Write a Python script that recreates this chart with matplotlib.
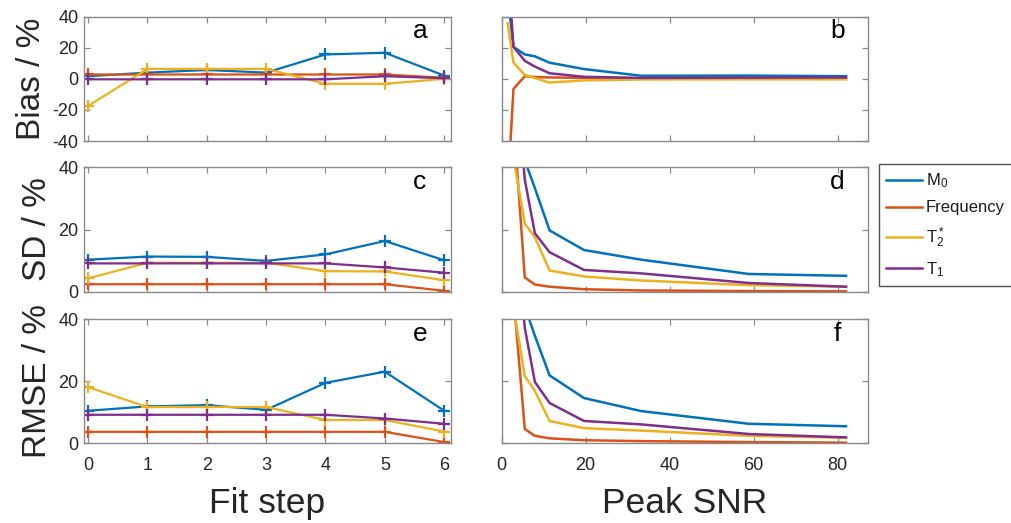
import matplotlib
matplotlib.use("Agg")
import matplotlib.pyplot as plt

plt.rcParams['font.family'] = ['Liberation Sans', 'DejaVu Sans']
plt.rcParams['mathtext.fontset'] = 'custom'
plt.rcParams['mathtext.rm'] = 'Liberation Sans'
plt.rcParams['mathtext.it'] = 'Liberation Sans:italic'
plt.rcParams['axes.unicode_minus'] = False

# ---- data: fit-step study ----
fit_step = [0, 1, 2, 3, 4, 5, 6]
bias_m0 = [1.7, 4.0, 5.7, 4.0, 15.7, 16.8, 2.1]
bias_freq = [2.8, 2.8, 2.8, 2.8, 2.8, 2.8, 0.7]
bias_t2 = [-17.4, 6.4, 6.4, 6.4, -3.2, -3.2, 0.0]
bias_t1 = [-0.3, -0.3, -0.3, -0.3, -0.3, 1.7, 0.4]

sd_m0 = [10.3, 11.3, 11.2, 9.9, 12.0, 16.3, 10.1]
sd_freq = [2.4, 2.4, 2.4, 2.4, 2.4, 2.4, 0.3]
sd_t2 = [4.3, 9.3, 9.3, 9.3, 6.6, 6.5, 3.7]
sd_t1 = [9.1, 9.1, 9.1, 9.1, 9.1, 7.8, 6.1]

rmse_m0 = [10.5, 11.9, 12.3, 10.8, 19.5, 23.1, 10.5]
rmse_freq = [3.7, 3.7, 3.7, 3.7, 3.7, 3.7, 0.4]
rmse_t2 = [18.1, 11.7, 11.7, 11.7, 7.5, 7.5, 3.8]
rmse_t1 = [9.2, 9.2, 9.2, 9.2, 9.2, 8.0, 6.3]

# ---- data: noise study ----
snr = [1.4, 2.8, 5.5, 7.9, 11.4, 19.6, 33.2, 58.8, 82.0]
snr_bias_m0 = [54, 20.6, 15.7, 14.5, 10.4, 6.3, 2.0, 2.1, 1.7]
snr_bias_freq = [-74, -6.5, 1.7, 1.2, 0.9, 0.6, 0.4, 0.3, 0.3]
snr_bias_t2 = [36, 10.5, 2.5, 0.5, -2.4, -1.0, -0.4, -0.3, -0.3]
snr_bias_t1 = [75, 20.6, 11.6, 7.9, 3.6, 1.3, 0.6, 0.8, 0.9]

snr_sd_m0 = [100, 70, 42.2, 33.3, 19.7, 13.4, 10.3, 5.7, 5.1]
snr_sd_freq = [100, 55.8, 4.6, 2.3, 1.6, 0.8, 0.4, 0.2, 0.1]
snr_sd_t2 = [100, 43, 21.9, 17.5, 6.8, 4.9, 3.6, 2.1, 1.6]
snr_sd_t1 = [100, 80, 36, 18.8, 12.7, 7.0, 5.9, 2.8, 1.6]

snr_rmse_m0 = [100, 90, 44.1, 34.7, 21.9, 14.6, 10.4, 6.3, 5.5]
snr_rmse_freq = [100, 47.7, 4.6, 2.4, 1.6, 1.0, 0.7, 0.4, 0.2]
snr_rmse_t2 = [100, 44, 21.7, 16.9, 7.2, 4.9, 4.1, 2.4, 1.8]
snr_rmse_t1 = [100, 80, 37.2, 19.8, 13.0, 7.2, 6.1, 3.0, 1.9]

series_names = [r'M$_0$', 'Frequency', r'T$_2^*$', r'T$_1$']
colors = ['#0072BD', '#D95319', '#EDB120', '#7E2F8E']
panel_letters = ['a', 'b', 'c', 'd', 'e', 'f']
row_labels = ['Bias / %', 'SD / %', 'RMSE / %']

W, H = 1012, 523
fig = plt.figure(figsize=(W / 100, H / 100), dpi=100)

ax_color = '#262626'
frame_color = '#8a8a8a'

def px_axes(x0, x1, y0, y1):
    return fig.add_axes([x0 / W, 1 - y1 / H, (x1 - x0) / W, (y1 - y0) / H])

rows_px = [(16.7, 141.0), (167.3, 291.7), (319.3, 443.3)]
left_px = (84.0, 450.7)
right_px = (501.7, 868.3)

left_data = [
    [bias_m0, bias_freq, bias_t2, bias_t1],
    [sd_m0, sd_freq, sd_t2, sd_t1],
    [rmse_m0, rmse_freq, rmse_t2, rmse_t1],
]
right_data = [
    [snr_bias_m0, snr_bias_freq, snr_bias_t2, snr_bias_t1],
    [snr_sd_m0, snr_sd_freq, snr_sd_t2, snr_sd_t1],
    [snr_rmse_m0, snr_rmse_freq, snr_rmse_t2, snr_rmse_t1],
]
ylims = [(-40, 40), (0, 40), (0, 40)]
yticks = [[-40, -20, 0, 20, 40], [0, 20, 40], [0, 20, 40]]

def style(ax):
    for s in ax.spines.values():
        s.set_color(frame_color)
        s.set_linewidth(1.0)
    ax.tick_params(direction='in', top=True, right=True, length=4,
                   width=0.9, color=frame_color, labelsize=13,
                   labelcolor=ax_color)
    ax.tick_params(axis='y', pad=4)
    ax.tick_params(axis='x', pad=10)

handles = None
for r, (y0, y1) in enumerate(rows_px):
    # fit-step column
    axl = px_axes(left_px[0], left_px[1], y0, y1)
    for vals, c in zip(left_data[r], colors):
        axl.plot(fit_step, vals, color=c, lw=1.6, marker='+', ms=8, mew=1.6)
    axl.set_xlim(-0.07, 6.11)
    axl.set_ylim(*ylims[r])
    axl.set_yticks(yticks[r])
    axl.set_xticks(fit_step)
    style(axl)
    axl.set_ylabel(row_labels[r], fontsize=24, color=ax_color, labelpad=4)
    if r < 2:
        axl.set_xticklabels([])
    else:
        axl.set_xlabel('Fit step', fontsize=25.5, color=ax_color, labelpad=9)
    axl.text(0.916, 0.885, panel_letters[2 * r], transform=axl.transAxes,
             ha='center', va='center', fontsize=19, color='black')

    # SNR column
    axr = px_axes(right_px[0], right_px[1], y0, y1)
    hs_r = []
    for vals, c in zip(right_data[r], colors):
        h, = axr.plot(snr, vals, color=c, lw=1.8)
        hs_r.append(h)
    axr.set_xlim(0, 87.3)
    axr.set_ylim(*ylims[r])
    axr.set_yticks(yticks[r])
    axr.set_yticklabels([])
    axr.set_xticks([0, 20, 40, 60, 80])
    style(axr)
    if r < 2:
        axr.set_xticklabels([])
    else:
        axr.set_xlabel('Peak SNR', fontsize=25.5, color=ax_color, labelpad=9)
    axr.text(0.916, 0.885, panel_letters[2 * r + 1], transform=axr.transAxes,
             ha='center', va='center', fontsize=19, color='black')
    if r == 1:
        handles = hs_r

leg = fig.legend(handles, series_names, loc='upper left',
                 bbox_to_anchor=(879 / W, 1 - 164.3 / H, 150 / W, 0),
                 mode='expand', frameon=True, fancybox=False, fontsize=12,
                 handlelength=2.15, handletextpad=0.2,
                 labelspacing=0.6, borderpad=0.45, borderaxespad=0)
leg.get_frame().set_edgecolor('#262626')
leg.get_frame().set_linewidth(1.0)
for t in leg.get_texts():
    t.set_color('#1a1a1a')

fig.savefig('out.png', dpi=100)
